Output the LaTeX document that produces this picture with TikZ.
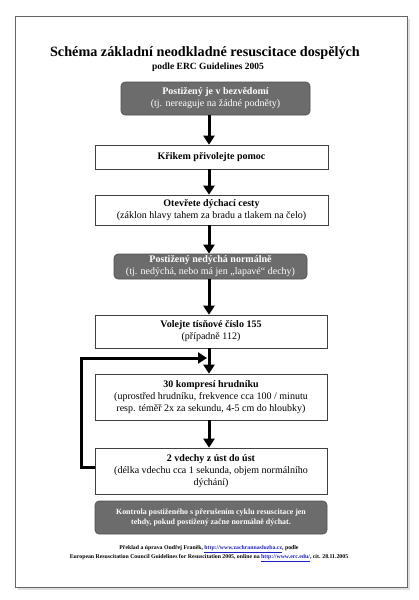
\documentclass[tikz,border=0pt]{standalone}
\usepackage{fontspec}
\setmainfont{Liberation Serif}
\usetikzlibrary{arrows.meta}
\definecolor{darkbox}{HTML}{6C6C6C}
\definecolor{darkedge}{HTML}{4E4E4E}
\definecolor{linkblue}{HTML}{2020C0}
\tikzset{
  whitebox/.style={draw=black!75, line width=0.6pt, fill=white, align=center, font=\fontsize{10}{12}\selectfont, inner sep=1pt},
  darkbox/.style={draw=darkedge, line width=0.6pt, fill=darkbox, rounded corners=4pt, align=center, text=white, font=\fontsize{10}{12}\selectfont, inner sep=1pt},
  flow/.style={line width=3pt, -{Triangle[width=11pt,length=9pt]}},
  link/.style={text=linkblue}
}
\begin{document}
\begin{tikzpicture}[x=1pt,y=-1pt]
\useasboundingbox (0,0) rectangle (419,600);
\fill[white] (0,0) rectangle (419,600);
\fill[black!12] (18,19) rectangle (410,590);
\draw[black!60, fill=white, line width=1pt] (15,16) rectangle (407,587);

\node[font=\fontsize{14.2}{16}\selectfont\bfseries] (title) at (205,53) {Schéma základní neodkladné resuscitace dospělých};
\node[font=\fontsize{9.5}{11}\selectfont\bfseries] (sub) at (208,67.5) {podle ERC Guidelines 2005};

\node[darkbox, minimum width=189pt, minimum height=33pt] (b1) at (215.5,98.5) {\textbf{Postižený je v bezvědomí}\\(tj. nereaguje na žádné podněty)};
\node[whitebox, minimum width=233pt, minimum height=24pt] (b2) at (211.5,157) {\textbf{Křikem přivolejte pomoc}};
\node[whitebox, minimum width=233pt, minimum height=30pt] (b3) at (211.5,210) {\textbf{Otevřete dýchací cesty}\\(záklon hlavy tahem za bradu a tlakem na čelo)};
\node[darkbox, minimum width=193pt, minimum height=25pt] (b4) at (210.5,266.5) {\textbf{Postižený nedýchá normálně}\\(tj. nedýchá, nebo má jen „lapavé“ dechy)};
\node[whitebox, minimum width=232pt, minimum height=33pt] (b5) at (211,331.5) {\textbf{Volejte tísňové číslo 155}\\(případně 112)};
\node[whitebox, minimum width=232pt, minimum height=46pt] (b6) at (211,397) {\textbf{30 kompresí hrudníku}\\(uprostřed hrudníku, frekvence cca 100 / minutu\\resp. téměř 2x za sekundu, 4-5 cm do hloubky)};
\node[whitebox, minimum width=232pt, minimum height=46pt] (b7) at (211,471) {\textbf{2 vdechy z úst do úst}\\(délka vdechu cca 1 sekunda, objem normálního\\dýchání)};
\node[darkbox, minimum width=232pt, minimum height=33pt, font=\fontsize{7.9}{9.5}\selectfont\bfseries] (b8) at (211,517.5) {Kontrola postiženého s přerušením cyklu resuscitace jen\\tehdy, pokud postižený začne normálně dýchat.};

\coordinate (ax) at (209,0);
\draw[flow] (b1.south -| ax) -- (b2.north -| ax);
\draw[flow] (b2.south -| ax) -- (b3.north -| ax);
\draw[flow] (b3.south -| ax) -- (b4.north -| ax);
\draw[flow] (b4.south -| ax) -- (b5.north -| ax);
\draw[flow] (b5.south -| ax) -- (b6.north -| ax);
\draw[flow] (b6.south -| ax) -- (b7.north -| ax);

\coordinate (lp1) at (81,467);
\coordinate (lp2) at (81,358);
\coordinate (lp3) at (207,358);
\draw[flow] (b7.west |- lp1) -- (lp1) -- (lp2) -- (lp3);

\node[font=\fontsize{5.8}{7}\selectfont\bfseries, align=center] (foot) at (209,553.5) {Překlad a úprava Ondřej Franěk, \textcolor{linkblue}{\underline{http://www.zachrannasluzba.cz}}, podle\\European Resuscitation Council Guidelines for Resuscitation 2005, online na \textcolor{linkblue}{\underline{http://www.erc.edu/}}, cit. 28.11.2005};
\end{tikzpicture}
\end{document}
